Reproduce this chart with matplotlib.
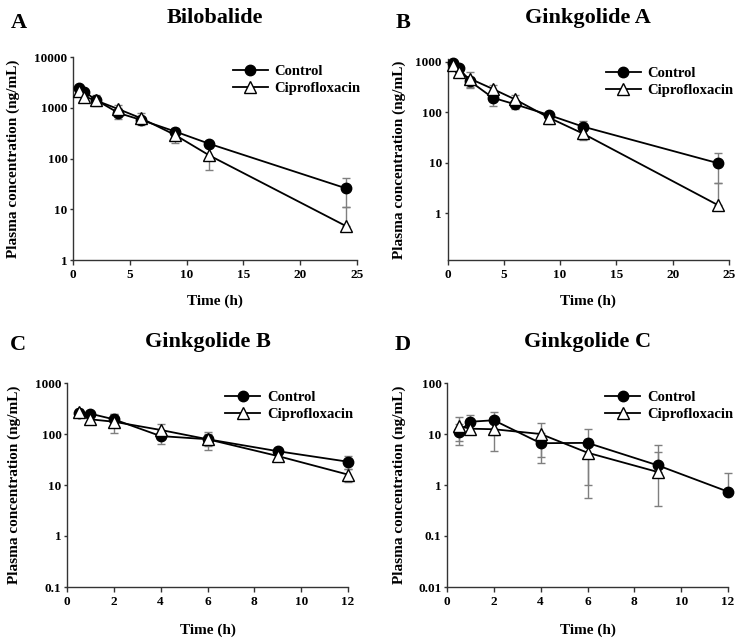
import numpy as np
import matplotlib
matplotlib.use("Agg")
import matplotlib.pyplot as plt
from matplotlib.ticker import FixedLocator, NullLocator, FixedFormatter

plt.rcParams['font.family'] = ['Liberation Serif', 'DejaVu Serif']
plt.rcParams['font.weight'] = 'bold'

# ---------------- data ----------------
times_24 = [0.5, 1, 2, 4, 6, 9, 12, 24]
times_12 = [0.5, 1, 2, 4, 6, 9, 12]
times_9 = [0.5, 1, 2, 4, 6, 9]

bil_ctrl = [2400, 2080, 1430, 790, 575, 340, 195, 26]
bil_ctrl_sd = [300, 200, 350, 200, 80, 60, 30, 15]
bil_cipro = [2180, 1660, 1400, 940, 620, 290, 115, 4.7]
bil_cipro_sd = [300, 250, 200, 180, 160, 90, 55, 6.3]

gka_ctrl = [930, 760, 410, 194, 143, 88, 52, 9.8]
gka_ctrl_sd = [80, 80, 90, 62, 25, 10, 16, 5.8]
gka_cipro = [860, 620, 460, 290, 179, 78, 38, 1.45]
gka_cipro_sd = [150, 100, 160, 55, 40, 20, 10, 2.5]

gkb_ctrl = [255, 250, 194, 91, 79, 46, 28.6]
gkb_ctrl_sd = [30, 25, 55, 27, 20, 8, 8]
gkb_cipro = [265, 194, 174, 120, 79, 37, 16]
gkb_cipro_sd = [40, 37, 70, 35, 30, 8, 4.5]

gkc_ctrl = [11, 17.4, 18.6, 6.6, 6.7, 2.43, 0.74]
gkc_ctrl_sd = [5, 6.5, 9, 3.9, 5.7, 2.05, 1.0]
gkc_cipro = [14.3, 12.7, 12.4, 10, 4.3, 1.8]
gkc_cipro_sd = [7, 2.5, 7.8, 6.5, 3.75, 4.4]

series_labels = ['Control', 'Ciprofloxacin']
panel_letters = ['A', 'B', 'C', 'D']
titles = ['Bilobalide', 'Ginkgolide A', 'Ginkgolide B', 'Ginkgolide C']
xlabel = 'Time (h)'
ylabel = 'Plasma concentration (ng/mL)'

W, H = 743, 642
fig = plt.figure(figsize=(W / 100, H / 100), dpi=100)


def px_axes(left, top, right, bottom):
    return fig.add_axes([left / W, 1 - bottom / H, (right - left) / W, (bottom - top) / H])


panels = [
    dict(box=(73, 57, 357, 260), ylim=(1, 10000), yt=[1, 10, 100, 1000, 10000],
         ytl=['1', '10', '100', '1000', '10000'], xlim=(0, 25), xt=[0, 5, 10, 15, 20, 25],
         c=(times_24, bil_ctrl, bil_ctrl_sd), p=(times_24, bil_cipro, bil_cipro_sd),
         ylab_x=13, letter=(19, 23), title_y=18),
    dict(box=(447.5, 59, 729, 260), ylim=(0.118, 1130), yt=[1, 10, 100, 1000],
         ytl=['1', '10', '100', '1000'], xlim=(0, 25), xt=[0, 5, 10, 15, 20, 25],
         c=(times_24, gka_ctrl, gka_ctrl_sd), p=(times_24, gka_cipro, gka_cipro_sd),
         ylab_x=399, letter=(403, 23), title_y=18),
    dict(box=(67, 383, 348, 587), ylim=(0.1, 1000), yt=[0.1, 1, 10, 100, 1000],
         ytl=['0.1', '1', '10', '100', '1000'], xlim=(0, 12), xt=[0, 2, 4, 6, 8, 10, 12],
         c=(times_12, gkb_ctrl, gkb_ctrl_sd), p=(times_12, gkb_cipro, gkb_cipro_sd),
         ylab_x=14, letter=(18, 345), title_y=342),
    dict(box=(447, 383, 728, 587), ylim=(0.01, 100), yt=[0.01, 0.1, 1, 10, 100],
         ytl=['0.01', '0.1', '1', '10', '100'], xlim=(0, 12), xt=[0, 2, 4, 6, 8, 10, 12],
         c=(times_12, gkc_ctrl, gkc_ctrl_sd), p=(times_9, gkc_cipro, gkc_cipro_sd),
         ylab_x=399, letter=(403, 345), title_y=342),
]

ecol = '#7f7f7f'
for i, pn in enumerate(panels):
    l, t, r, b = pn['box']
    ax = px_axes(l, t, r, b)
    ax.set_yscale('log')
    ax.set_xlim(*pn['xlim'])
    ax.set_ylim(*pn['ylim'])

    handles = []
    for key, mk, mfc, ms in [('c', 'o', 'black', 7.5), ('p', '^', 'white', 8)]:
        x, y, sd = pn[key]
        x = np.asarray(x, float)
        y = np.asarray(y, float)
        sd = np.asarray(sd, float)
        lo = np.where(y - sd > 0, sd, 0.0)
        eb = ax.errorbar(x, y, yerr=[lo, sd], fmt='none', ecolor=ecol, elinewidth=1.0,
                         capsize=3, capthick=1.0, zorder=2)
        for art in eb.lines[1] + eb.lines[2]:
            art.set_clip_on(False)
        h, = ax.plot(x, y, color='black', lw=1.3, marker=mk, ms=ms, mfc=mfc,
                     mec='black', mew=1.0, zorder=3, clip_on=False)
        handles.append(h)

    for s in ['top', 'right']:
        ax.spines[s].set_visible(False)
    for s in ['left', 'bottom']:
        ax.spines[s].set_color('#333333')
        ax.spines[s].set_linewidth(1.0)

    ax.yaxis.set_major_locator(FixedLocator(pn['yt']))
    ax.yaxis.set_major_formatter(FixedFormatter(pn['ytl']))
    ax.yaxis.set_minor_locator(NullLocator())
    ax.set_xticks(pn['xt'])
    ax.set_xticklabels([str(v) for v in pn['xt']])
    ax.tick_params(axis='y', direction='out', length=2.5, width=1, pad=1.5,
                   labelsize=9.5, colors='#333333', labelcolor='black')
    ax.tick_params(axis='x', direction='out', length=3.5, width=1, pad=3,
                   labelsize=9.5, colors='#333333', labelcolor='black')
    for lab in ax.get_xticklabels() + ax.get_yticklabels():
        lab.set_fontweight('bold')

    wpx, hpx = r - l, b - t
    ax.set_ylabel(ylabel, fontsize=11, fontweight='bold', va='center', ha='center')
    ax.yaxis.set_label_coords((pn['ylab_x'] - l) / wpx, 0.5)
    ax.set_xlabel(xlabel, fontsize=11, fontweight='bold', va='center', ha='center')
    ax.xaxis.set_label_coords(0.5, -(41 if i < 2 else 43) / hpx)

    leg = ax.legend(handles, series_labels, loc='upper left',
                    bbox_to_anchor=(0.563, 1 - 8 / hpx), frameon=False,
                    prop={'family': 'Liberation Serif', 'weight': 'bold', 'size': 10.5},
                    handlelength=2.4, handletextpad=0.45, labelspacing=0.25,
                    borderpad=0, borderaxespad=0)

    fig.text((l + r) / 2 / W, 1 - pn['title_y'] / H, titles[i], fontsize=16,
             fontweight='bold', ha='center', va='center')
    lx, ly = pn['letter']
    fig.text(lx / W, 1 - ly / H, panel_letters[i], fontsize=16, fontweight='bold',
             ha='center', va='center')

fig.savefig('out.png', dpi=100, facecolor='white')
